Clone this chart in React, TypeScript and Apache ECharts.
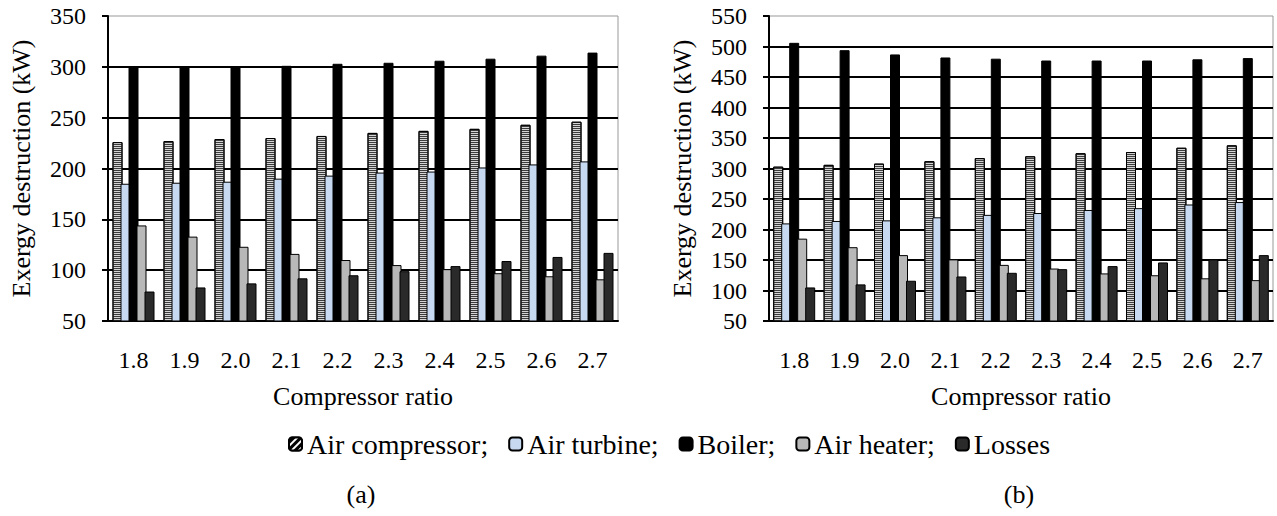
import { useEffect, useRef } from 'react';
import * as echarts from 'echarts';

const ratios = ['1.8', '1.9', '2.0', '2.1', '2.2', '2.3', '2.4', '2.5', '2.6', '2.7'];
const seriesNames = ['Air compressor', 'Air turbine', 'Boiler', 'Air heater', 'Losses'];

// Panel (a)
const airCompressorA = [226, 227, 229, 230, 232, 235, 237, 239, 243, 246];
const airTurbineA = [185, 186, 187, 190, 193, 196, 197, 201, 204, 207];
const boilerA = [300, 300, 300, 301, 303, 304, 306, 308, 311, 314];
const airHeaterA = [144, 133, 123, 116, 110, 105, 101, 97, 94, 91];
const lossesA = [79, 83, 87, 92, 95, 99, 104, 109, 113, 117];

// Panel (b)
const airCompressorB = [303, 306, 308, 312, 317, 320, 325, 327, 334, 338];
const airTurbineB = [210, 214, 215, 220, 224, 227, 232, 235, 241, 245];
const boilerB = [506, 494, 487, 482, 480, 477, 477, 477, 479, 481];
const airHeaterB = [185, 171, 158, 151, 142, 136, 128, 125, 120, 117];
const lossesB = [105, 110, 116, 123, 129, 135, 140, 146, 151, 158];

const yMinA = 50, yMaxA = 350, yMinB = 50, yMaxB = 550, yStep = 50;

const FONT = 'Times New Roman';

const stripeDecal = {
  symbol: 'rect',
  symbolSize: 1,
  dashArrayX: [1, 0],
  dashArrayY: [1, 1],
  rotation: 0,
  color: '#3c3c3c',
};

const styles = [
  { color: '#d4d4d4', borderColor: '#000', borderWidth: 1, decal: stripeDecal },
  { color: '#c6d9f1', borderColor: '#000', borderWidth: 1 },
  { color: '#000000', borderColor: '#000', borderWidth: 1 },
  { color: '#b8b8b8', borderColor: '#000', borderWidth: 1 },
  { color: '#2a2a2a', borderColor: '#000', borderWidth: 1 },
];

export default function App() {
  const ref = useRef<HTMLDivElement>(null);
  useEffect(() => {
    const chart = echarts.init(ref.current!, null, { renderer: 'svg' });
    const dataA = [airCompressorA, airTurbineA, boilerA, airHeaterA, lossesA];
    const dataB = [airCompressorB, airTurbineB, boilerB, airHeaterB, lossesB];

    const makeX = (gridIndex: number) => ({
      type: 'category',
      gridIndex,
      data: ratios,
      name: 'Compressor ratio',
      nameLocation: 'middle',
      nameGap: 62,
      nameTextStyle: { fontSize: 26, fontFamily: FONT, color: '#000' },
      axisLine: { lineStyle: { color: '#000', width: 2 } },
      axisTick: { length: 6, lineStyle: { color: '#000', width: 2 } },
      axisLabel: { fontSize: 24, margin: 27, color: '#000', fontFamily: FONT },
    });
    const makeY = (gridIndex: number, min: number, max: number) => ({
      type: 'value',
      gridIndex,
      min,
      max,
      interval: yStep,
      name: 'Exergy destruction (kW)',
      nameLocation: 'middle',
      nameGap: 74,
      nameTextStyle: { fontSize: 26, fontFamily: FONT, color: '#000' },
      axisLine: { show: true, lineStyle: { color: '#000', width: 2 } },
      axisTick: { show: true, length: 6, lineStyle: { color: '#000', width: 2 } },
      splitLine: { show: true, showMaxLine: false, lineStyle: { color: '#000', width: 2 } },
      axisLabel: { fontSize: 24, margin: 22, color: '#000', fontFamily: FONT },
    });

    const series: any[] = [];
    [dataA, dataB].forEach((set, gi) => {
      set.forEach((vals, i) => {
        series.push({
          type: 'bar',
          name: seriesNames[i],
          xAxisIndex: gi,
          yAxisIndex: gi,
          data: vals,
          barWidth: 10,
          barGap: '-20%',
          itemStyle: styles[i],
        });
      });
    });

    chart.setOption({
      animation: false,
      backgroundColor: '#fff',
      textStyle: { fontFamily: FONT },
      grid: [
        { left: 108, top: 16, width: 510, height: 305, show: true, borderColor: '#999', borderWidth: 1, outerBoundsMode: 'none' },
        { left: 769, top: 16, width: 504, height: 305, show: true, borderColor: '#999', borderWidth: 1, outerBoundsMode: 'none' },
      ],
      xAxis: [makeX(0), makeX(1)],
      yAxis: [makeY(0, yMinA, yMaxA), makeY(1, yMinB, yMaxB)],
      legend: {
        left: 283,
        top: 425,
        itemWidth: 13,
        itemHeight: 13,
        itemGap: 20,
        textStyle: { fontSize: 28, fontFamily: FONT, color: '#000' },
        formatter: (name: string) => (name === 'Losses' ? name : name + ';'),
        data: [
          {
            name: 'Air compressor',
            itemStyle: {
              color: '#000',
              decal: { symbol: 'rect', symbolSize: 1, dashArrayX: [1, 0], dashArrayY: [2, 3], rotation: -Math.PI / 4, color: '#fff' },
            },
          },
          'Air turbine',
          'Boiler',
          'Air heater',
          'Losses',
        ],
      },
      graphic: [
        { type: 'text', x: 361, y: 494, style: { text: '(a)', fontSize: 26, fontFamily: FONT, fill: '#000', textAlign: 'center', textVerticalAlign: 'middle' } },
        { type: 'text', x: 1019, y: 494, style: { text: '(b)', fontSize: 26, fontFamily: FONT, fill: '#000', textAlign: 'center', textVerticalAlign: 'middle' } },
      ],
      series,
    });
    return () => chart.dispose();
  }, []);
  return <div ref={ref} style={{ position: 'fixed', left: 0, top: 0, width: 1277, height: 516, background: '#fff' }} />;
}
